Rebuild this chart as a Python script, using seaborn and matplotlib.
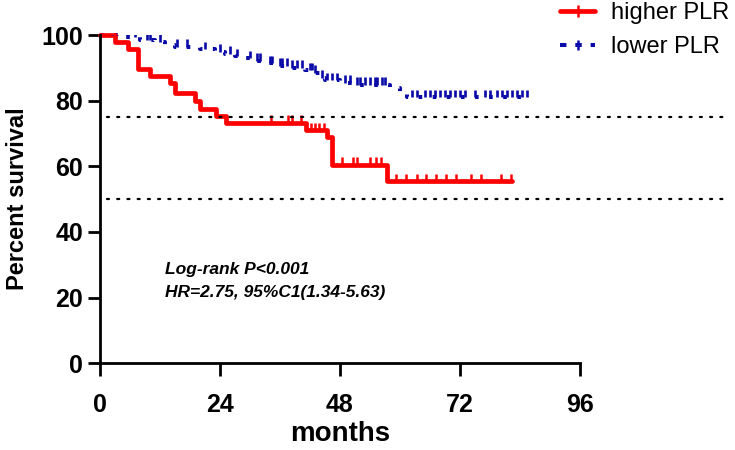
import numpy as np
import pandas as pd
import matplotlib
matplotlib.use("Agg")
import matplotlib.pyplot as plt
from matplotlib.lines import Line2D
import seaborn as sns

# higher PLR: event times (months) and survival (%) after each event
high_t = [0, 3, 5.7, 7.6, 10, 14, 15, 19, 20, 23.3, 25.3, 41.3, 45.5, 46.5, 57.4, 82.4]
high_s = [100, 97.9, 95.8, 89.6, 87.5, 85.4, 82.5, 79.8, 77.6, 75.3, 73.2, 71.0, 68.9, 60.5, 55.5, 55.5]
high_cens = [34.3, 37.6, 38.5, 40.2, 42.3, 43.0, 43.9, 44.8, 48.5, 50.7, 51.5, 54.0, 55.2, 56.2,
             59.3, 61.3, 63.5, 65.3, 67.3, 69.3, 71.3, 74.3, 76.3, 80.3, 82.3]

# lower PLR
low_t = [0, 5, 8, 11, 13, 15, 20, 23, 25, 27, 28.5, 31, 33, 35, 38, 41, 43, 44, 45, 48, 51, 58, 60, 61.5, 85.6]
low_s = [100, 99.3, 98.6, 97.9, 97.1, 96.4, 95.7, 95.0, 94.3, 93.6, 92.9, 92.2, 91.4, 90.7, 90.0,
         89.3, 88.5, 87.0, 86.2, 85.5, 84.8, 84.0, 82.5, 81.1, 81.1]
low_cens = [2.5, 3.5, 7, 9.5, 10, 12, 15.5, 17.5, 21, 24, 26, 27.5, 30, 31.5, 32, 34, 34.5, 36, 36.5,
            37.5, 38.5, 39.5, 40.5, 42, 42.5, 43, 44.5, 45.5, 46.5, 47.5, 49, 50, 51.5, 52, 53, 54,
            55, 55.5, 56.5, 57, 62.5, 63.5, 65, 66, 67, 68, 69, 70, 71, 72, 73, 75, 77, 78, 79.5,
            80.5, 81.5, 82.5, 83.5, 84.5, 85.5]

x_ticks = [0, 24, 48, 72, 96]
y_ticks = [0, 20, 40, 60, 80, 100]
ref_lines = [75, 50]
labels = ["higher PLR", "lower PLR"]

RED = "#ff0000"
BLUE = "#0a0aa8"
BLUE_LS = (0, (0.9, 2.6))

sns.set_style("ticks")
plt.rcParams['font.family'] = ['Liberation Sans', 'DejaVu Sans']
plt.rcParams['text.color'] = 'black'
plt.rcParams['axes.labelcolor'] = 'black'
plt.rcParams['xtick.color'] = 'black'
plt.rcParams['ytick.color'] = 'black'
plt.rcParams['axes.edgecolor'] = 'black'

fig = plt.figure(figsize=(7.35, 4.5), dpi=100)
ax = fig.add_axes([0.136, 0.193, 0.653, 0.729])

def level_at(times, surv, x):
    idx = np.searchsorted(times, x, side="right") - 1
    return np.array(surv)[idx]

high_df = pd.DataFrame({"months": high_t, "surv": high_s})
low_df = pd.DataFrame({"months": low_t, "surv": low_s})

sns.lineplot(data=low_df, x="months", y="surv", ax=ax, color=BLUE, lw=2.9,
             drawstyle="steps-post", estimator=None,
             linestyle=BLUE_LS, clip_on=False)
sns.lineplot(data=high_df, x="months", y="surv", ax=ax, color=RED, lw=3.4,
             drawstyle="steps-post", estimator=None, clip_on=False)

# censor ticks
hc = np.array(high_cens)
hl = level_at(high_t, high_s, hc)
ax.vlines(hc, hl, hl + 2.3, color=RED, lw=1.8)
lc = np.array(low_cens)
ll = level_at(low_t, low_s, lc)
ax.vlines(lc, ll, ll + 2.3, color=BLUE, lw=1.9)

for yv in ref_lines:
    ax.plot([1.5, 125], [yv, yv], color="black", lw=1.6, linestyle=(0, (0.9, 3.7)),
            dash_capstyle="round", clip_on=False)

ax.set_xlim(0, 96)
ax.set_ylim(0, 100)
ax.set_xticks(x_ticks)
ax.set_yticks(y_ticks)
ax.tick_params(axis="x", length=9.5, width=2, direction="out", pad=12, labelsize=18)
ax.tick_params(axis="y", length=9, width=2, direction="out", pad=3, labelsize=18)
for lab in ax.get_xticklabels() + ax.get_yticklabels():
    lab.set_fontweight("bold")
for sp in ["left", "bottom"]:
    ax.spines[sp].set_linewidth(2)
sns.despine(ax=ax)

ax.set_xlabel("months", fontsize=20, fontweight="bold", labelpad=3)
ax.set_ylabel("Percent survival", fontsize=17, fontweight="bold", labelpad=9)

ax.text(13, 28.4, "Log-rank P<0.001", fontsize=12.5, fontweight="bold", style="italic", va="center")
ax.text(13, 21.6, "HR=2.75, 95%C1(1.34-5.63)", fontsize=12.5, fontweight="bold", style="italic", va="center")

handles = [
    Line2D([0], [0], color=RED, lw=3.4, marker="|", markersize=9, markeredgewidth=1.8),
    Line2D([0], [0], color=BLUE, lw=2.9, linestyle=(0, (1.6, 2.2)), marker="|",
           markersize=7, markeredgewidth=1.8),
]
fig.legend(handles, labels, loc="upper left", bbox_to_anchor=(0.762, 0.995),
           frameon=False, fontsize=17, handlelength=1.5, handletextpad=0.65,
           labelspacing=0.5, borderaxespad=0, borderpad=0)

fig.savefig("out.png", dpi=100)
